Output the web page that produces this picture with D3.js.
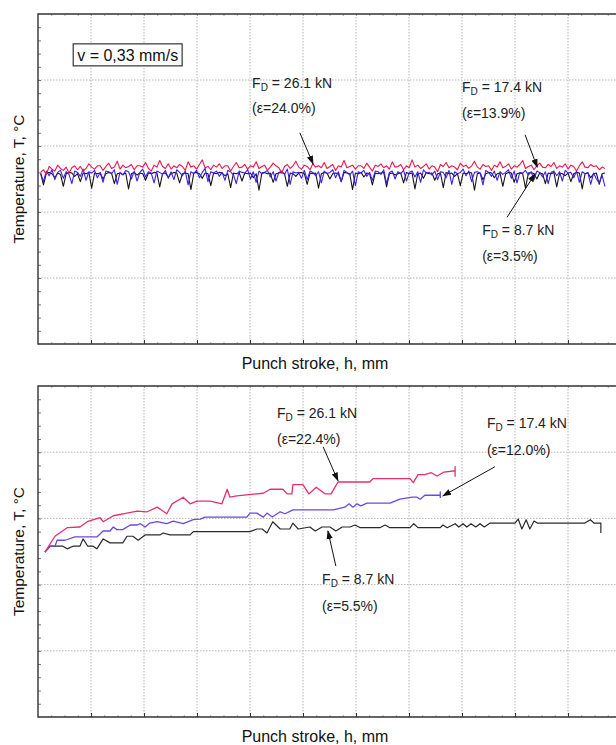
<!DOCTYPE html>
<html>
<head>
<meta charset="utf-8">
<script src="https://cdn.jsdelivr.net/npm/d3@7"></script>
<style>
  body { margin: 0; background: #fff; }
  svg { display: block; font-family: "Liberation Sans", Arial, sans-serif; }
</style>
</head>
<body>
<svg id="chart" width="616" height="745"></svg>
<script>
// ─── DONNÉES : PANNEAU DU HAUT (v = 0,33 mm/s) ──────────────────────────────
const topStrokeStart = 0.05;
const topStrokeStep = 0.0535;

const topRed = [
  46.0,46.4,45.7,46.9,46.5,46.2,47.1,46.6,46.3,46.8,45.9,46.7,47.0,46.4,46.9,46.2,46.6,47.3,46.8,46.5,
  47.0,47.0,46.3,46.9,47.4,46.6,46.8,47.7,46.5,47.1,46.7,46.9,47.2,46.4,47.0,47.0,46.8,47.5,46.6,46.2,
  47.1,46.8,47.8,46.9,46.6,47.3,46.5,47.0,46.7,47.2,46.9,46.3,47.6,46.8,47.0,46.5,47.2,47.9,46.7,46.9,
  46.4,47.1,46.8,47.3,46.6,47.0,47.0,46.2,46.9,47.5,46.7,46.8,47.2,46.5,47.0,46.8,47.6,46.6,46.9,47.1,
  46.3,46.8,47.4,47.0,46.7,45.9,46.9,47.2,46.6,47.0,47.7,46.8,46.5,47.1,46.9,46.4,47.3,46.8,47.0,46.7,
  47.5,46.6,46.9,47.2,46.3,47.0,46.8,47.8,46.7,46.9,47.1,46.5,47.0,47.0,46.6,47.4,46.8,46.2,47.1,46.9,
  47.3,46.7,47.0,46.5,47.6,46.8,46.9,47.2,46.4,47.0,46.7,47.9,46.8,47.1,46.6,46.9,47.3,46.5,47.0,46.8,
  46.1,47.2,46.9,47.5,46.7,47.0,46.8,46.4,47.4,46.9,47.1,46.6,47.0,47.7,46.8,46.5,47.2,46.9,47.0,46.3,
  47.1,46.8,47.6,46.7,46.9,47.3,46.5,47.0,46.8,47.2,47.8,46.6,46.9,47.1,46.4,47.0,47.4,46.8,46.7,47.2,
  46.9,47.5,46.6,47.0,46.8,47.3,46.5,47.1,46.9,46.2,47.0,47.6,46.8,46.7,47.2,46.9,47.0,46.4,46.8,46.6
];
const topBlue = [
  45.9,44.6,46.2,45.5,46.4,44.9,46.0,46.3,45.1,46.1,45.7,44.3,46.2,46.0,45.4,46.5,44.8,46.1,45.9,46.3,
  45.2,46.0,44.5,46.2,46.1,45.8,46.4,44.2,46.0,45.6,46.3,46.1,45.0,46.2,44.7,46.0,46.5,45.3,46.1,45.9,
  44.4,46.2,46.0,45.7,46.3,45.1,46.1,44.9,46.4,46.0,45.5,46.2,44.1,46.1,45.8,46.3,45.2,46.0,46.6,44.6,
  46.1,45.9,46.2,45.4,46.0,44.8,46.3,46.1,45.6,44.3,46.2,46.0,45.9,46.4,45.0,46.1,44.5,46.2,45.8,46.0,
  46.3,45.3,46.1,44.7,46.0,46.2,45.7,46.5,44.2,46.1,45.9,46.0,45.1,46.3,44.9,46.2,46.0,45.5,46.1,44.4,
  46.2,45.8,46.0,46.4,45.2,46.1,44.6,46.3,46.0,45.6,46.2,44.0,46.1,45.9,46.3,45.4,46.0,44.8,46.2,46.1,
  45.7,46.4,44.3,46.0,46.2,45.0,46.1,45.8,46.3,44.7,46.0,46.2,45.3,46.1,44.5,46.4,45.9,46.0,45.6,46.2,
  44.9,46.1,46.0,45.2,46.3,44.2,46.1,45.8,46.0,46.5,45.5,46.2,44.6,46.0,46.1,45.9,44.1,46.3,46.0,45.4,
  46.2,44.8,46.1,45.7,46.0,46.4,45.1,46.2,44.4,46.0,45.9,46.3,45.6,46.1,44.9,46.2,46.0,45.3,46.1,44.3,
  46.0,46.2,45.5,46.1,44.7,46.3,45.9,46.0,45.2,46.2,44.5,46.1,45.8,46.0,44.2,45.9,45.0,44.4,45.6,43.9
];
const topBlack = [
  45.8,44.1,45.9,46.0,45.8,45.2,45.9,45.7,43.9,45.8,46.0,45.9,45.4,45.8,44.6,45.9,45.8,46.0,43.6,45.9,
  45.8,45.9,45.0,45.8,46.0,45.9,44.3,45.8,45.9,45.7,45.9,43.5,45.8,46.0,45.6,45.9,45.8,44.8,45.9,45.8,
  46.0,45.9,43.8,45.8,45.9,45.3,45.8,46.0,45.9,44.4,45.8,45.9,45.8,43.4,45.9,46.0,45.8,45.1,45.9,45.8,
  44.0,45.9,45.8,46.0,45.9,45.5,45.8,43.7,45.9,45.8,46.0,44.7,45.9,45.8,45.9,45.2,45.8,43.3,45.9,46.0,
  45.8,45.9,44.5,45.8,45.9,46.0,45.8,43.9,45.9,45.8,45.4,45.9,46.0,45.8,44.2,45.9,45.8,45.9,43.6,45.8,
  46.0,45.9,45.0,45.8,45.9,45.8,44.6,46.0,45.9,45.8,43.4,45.9,45.8,46.0,45.3,45.9,45.8,44.1,45.9,45.8,
  45.9,46.0,43.8,45.8,45.9,45.6,45.8,45.9,44.4,46.0,45.8,45.9,43.5,45.8,45.9,45.1,46.0,45.8,45.9,44.8,
  45.8,45.9,43.7,46.0,45.8,45.9,45.4,45.8,44.0,45.9,45.8,46.0,45.9,43.3,45.8,45.9,44.9,45.8,46.0,45.9,
  45.2,45.8,45.9,43.9,45.8,46.0,45.9,44.5,45.8,45.9,45.8,43.6,45.9,46.0,45.8,45.0,45.9,45.8,44.3,45.9,
  45.8,46.0,43.8,45.9,45.8,45.5,45.9,44.6,45.8,46.0,45.9,43.5,45.8,45.9,45.2,45.8,45.9,44.2,45.8,45.9
];

// ─── DONNÉES : PANNEAU DU BAS ([course, température]) ────────────────────────
const botRed = [
  [0.13,44.9],[0.32,47.3],[0.55,48.6],[0.79,48.7],[0.93,49.5],[1.17,50.1],[1.23,49.5],[1.42,50.4],
  [1.68,50.8],[1.87,51.1],[2.06,51.0],[2.25,51.7],[2.43,50.7],[2.53,52.2],[2.74,53.2],[2.87,52.2],
  [3.00,52.6],[3.25,52.6],[3.47,52.2],[3.57,54.4],[3.62,53.2],[3.75,53.4],[4.25,53.8],[4.38,54.4],
  [4.62,54.4],[4.70,53.7],[4.79,53.7],[4.81,55.1],[5.00,55.1],[5.11,53.7],[5.25,54.7],[5.42,53.7],
  [5.53,53.7],[5.66,55.5],[6.26,55.5],[6.32,56.0],[7.02,56.0],[7.08,55.4],[7.17,56.6],[7.30,56.6],
  [7.42,56.9],[7.53,56.4],[7.66,57.0],[7.87,57.2],[7.87,57.8],[7.87,56.3]
];
const botBlue = [
  [0.13,44.9],[0.23,45.8],[0.32,45.8],[0.36,46.7],[0.51,46.7],[0.70,47.2],[1.11,47.2],[1.23,48.1],
  [1.36,48.1],[1.42,48.7],[1.49,48.3],[1.60,48.3],[1.74,49.0],[1.87,49.0],[1.93,49.2],[2.02,48.7],
  [2.11,49.3],[2.25,49.5],[2.43,49.2],[2.55,49.6],[2.74,49.2],[2.93,49.8],[3.06,49.9],[3.15,50.2],
  [3.94,50.2],[4.00,50.8],[4.13,50.8],[4.25,50.2],[4.32,50.8],[4.42,50.2],[4.57,51.0],[4.66,50.7],
  [4.81,51.3],[5.57,51.3],[5.79,51.7],[5.87,52.2],[5.94,51.7],[6.02,52.2],[6.09,51.9],[6.21,52.3],
  [6.64,52.3],[6.83,52.9],[7.06,53.2],[7.15,53.2],[7.21,52.9],[7.30,53.5],[7.59,53.5],[7.59,54.0],
  [7.59,53.1]
];
const botBlack = [
  [0.13,44.9],[0.23,45.8],[0.47,45.8],[0.55,45.4],[0.66,45.8],[0.79,45.8],[0.85,46.9],[0.94,45.8],
  [1.04,45.8],[1.11,45.4],[1.23,46.9],[1.36,46.3],[1.60,46.3],[1.68,47.3],[1.79,47.3],[1.89,46.7],
  [2.02,47.5],[2.30,47.5],[2.36,47.8],[2.49,47.5],[2.87,47.5],[2.93,48.0],[4.00,48.0],[4.13,48.4],
  [4.23,48.4],[4.32,47.8],[4.43,49.5],[4.57,48.4],[4.75,48.4],[4.81,49.3],[4.91,48.4],[5.13,48.7],
  [5.23,48.1],[5.36,48.7],[5.51,48.7],[5.62,48.1],[5.74,48.7],[5.89,48.7],[5.98,49.0],[6.08,48.6],
  [6.45,48.6],[6.55,49.0],[6.64,48.6],[7.02,48.6],[7.09,49.2],[7.17,48.6],[7.59,48.6],[7.64,49.0],
  [7.72,48.6],[7.87,49.2],[7.94,48.7],[8.02,49.2],[8.09,48.7],[8.17,49.2],[8.26,48.7],[8.34,49.2],
  [8.42,48.7],[8.53,49.3],[9.00,49.3],[9.06,49.9],[9.13,48.4],[9.21,49.8],[9.28,48.4],[9.36,49.6],
  [9.42,49.3],[10.32,49.3],[10.42,49.8],[10.49,49.3],[10.62,49.3],[10.62,47.8]
];

// ─── AXES (graduations sans étiquettes) ──────────────────────────────────────
const strokeDomain = [0, 11];
const tempDomain = [20, 70];
const strokeTicks = [1, 2, 3, 4, 5, 6, 7, 8, 9, 10];
const tempTicks = [30, 40, 50, 60];

// ─── ANNOTATIONS (en unités des données) ─────────────────────────────────────
const topNotes = [
  { force: "26.1", eps: "24.0", x: 4.04, y1: 58.8, y2: 55.0, ax: [4.94, 52.0], at: [5.19, 47.3] },
  { force: "17.4", eps: "13.9", x: 8.00, y1: 58.2, y2: 54.2, ax: [9.19, 51.7], at: [9.42, 46.8] },
  { force: "8.7",  eps: "3.5",  x: 8.38, y1: 36.5, y2: 32.6, ax: [8.85, 39.2], at: [9.38, 45.8] }
];
const botNotes = [
  { force: "26.1", eps: "22.4", x: 4.51, y1: 65.2, y2: 61.2, ax: [5.38, 60.8], at: [5.66, 55.7] },
  { force: "17.4", eps: "12.0", x: 8.47, y1: 63.7, y2: 59.6, ax: [8.62, 57.8], at: [7.64, 53.4] },
  { force: "8.7",  eps: "5.5",  x: 5.36, y1: 40.1, y2: 36.0, ax: [5.62, 42.8], at: [5.47, 48.1] }
];

const svg = d3.select("#chart");

// flèche
svg.append("defs").append("marker")
    .attr("id", "arrow")
    .attr("viewBox", "0 0 10 10")
    .attr("refX", 9).attr("refY", 5)
    .attr("markerWidth", 9).attr("markerHeight", 9)
    .attr("markerUnits", "userSpaceOnUse")
    .attr("orient", "auto")
    .append("path")
    .attr("d", "M0,1.5 L10,5 L0,8.5 Z")
    .attr("fill", "#111");

function drawPanel(p) {
    const x = d3.scaleLinear().domain(strokeDomain).range([38, 621]);
    const y = d3.scaleLinear().domain(tempDomain).range([p.bottom, p.top]);
    const g = svg.append("g");

    // Grille pointillée
    g.selectAll(".vgrid").data(strokeTicks).enter().append("line")
        .attr("x1", d => x(d)).attr("x2", d => x(d))
        .attr("y1", p.top).attr("y2", p.bottom)
        .attr("stroke", "#b5b5b5").attr("stroke-dasharray", "1.5,1.5");
    g.selectAll(".hgrid").data(tempTicks).enter().append("line")
        .attr("x1", 38).attr("x2", 616)
        .attr("y1", d => y(d)).attr("y2", d => y(d))
        .attr("stroke", "#b5b5b5").attr("stroke-dasharray", "1.5,1.5");

    // Axes : graduations vers l'intérieur, sans étiquettes
    g.append("g").attr("transform", `translate(0,${p.bottom})`)
        .call(d3.axisBottom(x).tickValues(d3.range(0.25, 11, 0.25)).tickSize(-2).tickFormat(""))
        .call(a => a.select(".domain").remove())
        .call(a => a.selectAll(".tick line").attr("stroke", "#aaa"));
    g.append("g").attr("transform", `translate(0,${p.top})`)
        .call(d3.axisTop(x).tickValues(d3.range(0.25, 11, 0.25)).tickSize(-2).tickFormat(""))
        .call(a => a.select(".domain").remove())
        .call(a => a.selectAll(".tick line").attr("stroke", "#aaa"));
    g.append("g").attr("transform", `translate(0,${p.bottom})`)
        .call(d3.axisBottom(x).tickValues(strokeTicks).tickSize(-4).tickFormat(""))
        .call(a => a.select(".domain").remove())
        .call(a => a.selectAll(".tick line").attr("stroke", "#333"));
    g.append("g").attr("transform", `translate(38,0)`)
        .call(d3.axisLeft(y).tickValues(d3.range(22, 70, 2)).tickSize(-3).tickFormat(""))
        .call(a => a.select(".domain").remove())
        .call(a => a.selectAll(".tick line").attr("stroke", "#777"));

    // Cadre
    g.append("path")
        .attr("d", `M616,${p.top} H38 V${p.bottom} H616`)
        .attr("fill", "none").attr("stroke", "#333").attr("stroke-width", 1.4);

    // Courbes
    p.series.forEach(s => {
        g.append("path")
            .datum(s.data)
            .attr("fill", "none")
            .attr("stroke", s.color)
            .attr("stroke-width", s.width)
            .attr("stroke-linejoin", "round")
            .attr("d", d3.line().x(d => x(d[0])).y(d => y(d[1])));
    });

    // Annotations
    p.notes.forEach(n => {
        const t1 = g.append("text")
            .attr("x", x(n.x)).attr("y", y(n.y1))
            .style("font-size", "14px").attr("fill", "#222");
        t1.append("tspan").text("F");
        t1.append("tspan").text("D").attr("dy", 3).style("font-size", "10px");
        t1.append("tspan").text(` = ${n.force} kN`).attr("dy", -3);
        g.append("text")
            .attr("x", x(n.x)).attr("y", y(n.y2))
            .style("font-size", "14px").attr("fill", "#222")
            .text(`(\u03B5=${n.eps}%)`);
        g.append("line")
            .attr("x1", x(n.ax[0])).attr("y1", y(n.ax[1]))
            .attr("x2", x(n.at[0])).attr("y2", y(n.at[1]))
            .attr("stroke", "#111").attr("stroke-width", 1)
            .attr("marker-end", "url(#arrow)");
    });

    // Titres des axes
    g.append("text")
        .attr("x", 315).attr("y", p.bottom + 25)
        .attr("text-anchor", "middle")
        .style("font-size", "16px").attr("fill", "#111")
        .text("Punch stroke, h, mm");
    g.append("text")
        .attr("transform", `translate(24,${(p.top + p.bottom) / 2}) rotate(-90)`)
        .attr("text-anchor", "middle")
        .style("font-size", "15.5px").attr("fill", "#111")
        .text("Temperature, T, \u00B0C");

    return { x, y, g };
}

const toPoints = vals => vals.map((v, i) => [topStrokeStart + i * topStrokeStep, v]);

const topPanel = drawPanel({
    top: 14, bottom: 344,
    series: [
        { data: toPoints(topBlack), color: "#151515", width: 1.1 },
        { data: toPoints(topBlue),  color: "#3c1ef2", width: 1.1 },
        { data: toPoints(topRed),   color: "#f5124c", width: 1.1 }
    ],
    notes: topNotes
});

drawPanel({
    top: 386, bottom: 717,
    series: [
        { data: botBlack, color: "#2a2a2a", width: 1.2 },
        { data: botBlue,  color: "#6a48e6", width: 1.3 },
        { data: botRed,   color: "#e5306a", width: 1.3 }
    ],
    notes: botNotes
});

// Encadré de vitesse
const vBox = topPanel.g.append("rect");
const vText = topPanel.g.append("text")
    .attr("x", topPanel.x(0.74)).attr("y", topPanel.y(62.9))
    .style("font-size", "16px").attr("fill", "#111")
    .text("v = 0,33 mm/s");
const bb = vText.node().getBBox();
vBox.attr("x", bb.x - 4).attr("y", bb.y - 3)
    .attr("width", bb.width + 8).attr("height", bb.height + 5)
    .attr("fill", "#fff").attr("stroke", "#333").attr("stroke-width", 1.2);
</script>
</body>
</html>
